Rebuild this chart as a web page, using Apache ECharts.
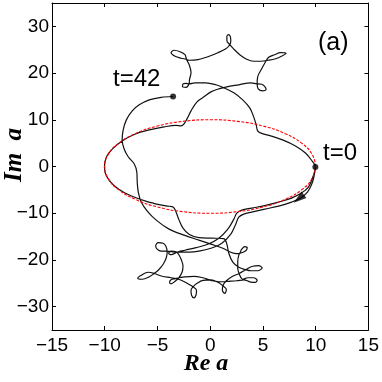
<!DOCTYPE html>
<html>
<head>
<meta charset="utf-8">
<script src="https://cdn.jsdelivr.net/npm/echarts@6/dist/echarts.min.js"></script>
<style>
  html, body { margin: 0; padding: 0; background: #fff; }
  #chart { width: 382px; height: 382px; }
</style>
</head>
<body>
<div id="chart"></div>
<script>
// axis ticks
const xTicks = [-15, -10, -5, 0, 5, 10, 15];
const yTicks = [-30, -20, -10, 0, 10, 20, 30];

// red dashed orbit |a| = 10
const unitOrbit = [[10,0],[9.66,2.59],[8.66,5],[7.07,7.07],[5,8.66],[2.59,9.66],[0,10],[-2.59,9.66],[-5,8.66],[-7.07,7.07],[-8.66,5],[-9.66,2.59],[-10,0],[-9.66,-2.59],[-8.66,-5],[-7.07,-7.07],[-5,-8.66],[-2.59,-9.66],[0,-10],[2.59,-9.66],[5,-8.66],[7.07,-7.07],[8.66,-5],[9.66,-2.59],[10,0]];

// black trajectory, t = 0 ... 42, in pieces
const outerStrand = [[9.97,-0.11],[9.83,-2.25],[9.59,-3.97],[9.22,-5.47],[8.56,-6.76],[7.71,-7.62],[6.48,-8.48],[5.16,-9.12],[3.93,-9.76],[3.18,-10.19],[2.71,-10.84],[2.42,-12.34],[1.95,-14.49],[1.10,-16.42],[0.07,-17.49],[-1.07,-18.13],[-2.01,-18.35],[-2.95,-18.35]];
const lowerPassA = [[-3.71,-18.24],[-4.13,-18.13],[-4.65,-18.13],[-5.03,-17.70],[-5.17,-16.95],[-4.93,-16.31],[-4.46,-16.42],[-4.18,-17.17],[-4.08,-18.35],[-4.18,-19.63],[-4.46,-20.92],[-4.84,-22.00],[-5.22,-22.75],[-5.78,-23.61],[-6.44,-24.14],[-6.87,-23.93],[-6.54,-23.28],[-5.88,-22.64],[-5.22,-22.96],[-4.56,-23.50],[-3.71,-23.82],[-2.86,-24.25],[-2.20,-25.00],[-1.63,-25.75],[-1.30,-26.50],[-1.35,-27.57],[-1.54,-28.11],[-1.77,-27.57],[-1.82,-26.50],[-1.63,-25.75],[-1.25,-25.00],[-0.69,-24.36],[0.07,-24.25],[0.73,-24.79],[1.20,-25.54],[1.53,-26.29],[1.39,-27.15],[1.15,-26.50],[1.20,-25.54],[1.48,-24.57],[2.05,-23.61],[2.80,-22.85],[3.37,-22.10],[4.03,-21.35],[4.59,-21.24],[4.92,-21.67],[4.50,-22.32],[3.84,-22.32],[3.37,-22.10],[2.71,-21.57],[2.14,-20.49],[1.76,-18.56],[1.58,-16.63],[1.29,-15.45],[0.16,-15.34],[-1.07,-15.24],[-2.01,-14.49]];
const leftOrbit = [[-2.58,-13.20],[-2.95,-11.48],[-3.24,-9.76],[-3.42,-8.91],[-3.61,-8.58],[-4.08,-8.48],[-4.84,-8.15],[-5.97,-7.51],[-7.10,-6.65],[-8.25,-5.47],[-9.18,-3.97],[-9.84,-2.04],[-10.03,-0.11],[-9.84,2.04],[-9.27,3.76],[-8.35,5.47],[-7.10,6.97],[-5.78,7.83],[-4.37,8.48],[-3.24,8.80],[-2.76,8.69],[-2.48,9.12],[-2.20,10.19],[-1.82,11.91],[-1.25,13.84],[-0.59,14.91],[0.07,15.98],[0.82,16.63],[1.58,17.06],[2.71,17.49],[3.84,17.92]];
const upperStar = [[4.41,17.70],[4.88,17.60],[5.16,17.17],[5.30,16.52],[4.97,16.20],[4.55,16.63],[4.45,17.70],[4.50,19.21],[4.88,20.92],[5.25,22.43],[5.54,23.39],[6.10,23.93],[6.67,24.36],[7.19,24.25],[6.76,23.61],[6.20,23.07],[5.54,22.75],[4.78,22.53],[4.12,22.53],[3.46,22.96],[2.80,23.93],[2.24,25.11],[1.86,26.07],[1.58,26.93],[1.58,27.79],[1.72,28.22],[1.91,27.79],[1.95,26.93],[1.86,26.07],[1.48,25.21],[0.73,24.36],[-0.22,23.50],[-1.16,22.86],[-2.01,22.75],[-2.29,22.96],[-2.76,23.18],[-3.33,23.61],[-3.71,24.36],[-3.42,24.89],[-2.86,24.57],[-2.39,23.93],[-2.25,22.96],[-1.96,21.57],[-1.82,20.06],[-1.96,18.67],[-2.01,17.70],[-2.29,16.95],[-2.62,17.06],[-2.58,17.70],[-2.29,17.81],[-2.01,17.70],[-1.44,17.92]];
const rightDescent = [[-0.41,17.92],[0.54,17.49],[1.29,16.85],[2.24,15.77],[3.08,14.27],[3.75,12.55],[4.12,10.62],[4.36,8.91],[4.50,7.62],[4.88,7.08],[5.73,6.55],[6.86,5.69],[8.08,4.40],[9.03,2.90],[9.59,1.39],[9.97,-0.11]];
const innerStrand = [[9.69,-2.47],[9.31,-4.40],[8.65,-5.69],[7.71,-6.76],[6.48,-7.62],[5.16,-8.37],[3.93,-8.91],[2.99,-9.33],[2.52,-9.98],[2.24,-11.27],[1.67,-13.41],[0.82,-15.34],[-0.22,-16.63],[-1.35,-17.38],[-2.39,-17.92]];
const lowerPassB = [[-3.14,-18.35],[-3.71,-18.88],[-3.94,-18.56],[-3.71,-18.13],[-3.24,-18.24],[-3.00,-18.78],[-2.76,-19.85],[-2.58,-21.35],[-2.67,-22.64],[-2.95,-23.71],[-3.33,-24.57],[-3.71,-25.11],[-3.85,-24.79],[-3.71,-24.25],[-3.33,-24.03],[-2.95,-23.82],[-2.39,-23.61],[-1.54,-23.50],[-0.69,-23.82],[0.07,-24.36],[0.82,-24.68],[1.76,-24.57],[2.52,-24.46],[3.18,-24.25],[3.75,-24.68],[4.26,-24.79],[4.45,-24.36],[4.12,-23.82],[3.56,-23.82],[3.08,-24.14],[2.80,-23.28],[2.61,-21.78],[2.61,-20.28],[2.71,-18.99],[2.85,-18.35],[2.99,-17.70],[3.27,-17.17],[3.51,-17.38],[3.37,-18.03],[2.99,-18.46],[2.52,-18.67]];
const finalArc = [[1.95,-18.35],[1.20,-17.49],[0.07,-16.63],[-1.07,-15.77],[-2.48,-14.70],[-3.90,-13.41],[-5.12,-11.48],[-5.97,-9.55],[-6.54,-7.62],[-6.82,-5.47],[-6.92,-3.33],[-6.96,-1.18],[-7.20,0.54],[-7.76,2.04],[-8.16,3.76],[-8.35,5.69],[-8.25,7.83],[-7.95,9.98],[-7.39,11.91],[-6.73,13.20],[-5.78,14.27],[-4.65,14.81],[-3.52,14.98]];

const endPoints = [[9.97, -0.11], [-3.52, 14.98]];
const arrowPoint = [[8.4, -6.9]];

const trajectory = [].concat(outerStrand, lowerPassA, leftOrbit, upperStar, rightDescent, innerStrand, lowerPassB, finalArc);

const sansFont = "'Liberation Sans Narrow', 'Liberation Sans', sans-serif";
const minusFmt = v => (v < 0 ? '\u2212' + Math.abs(v) : String(v));

const chart = echarts.init(document.getElementById('chart'));

const frameLine = { onZero: false, lineStyle: { color: '#000', width: 1 } };

chart.setOption({
  animation: false,
  grid: { left: 52, right: 12, top: 3, bottom: 52 },
  xAxis: [
    {
      type: 'value', position: 'bottom', min: -15, max: 15,
      axisLine: frameLine,
      axisTick: { inside: true, length: 4, customValues: xTicks, lineStyle: { color: '#000' } },
      axisLabel: { customValues: xTicks, color: '#000', fontSize: 19, fontFamily: sansFont, margin: 6, formatter: minusFmt },
      splitLine: { show: false }
    },
    {
      type: 'value', position: 'top', min: -15, max: 15,
      axisLine: frameLine,
      axisTick: { inside: true, length: 4, customValues: xTicks, lineStyle: { color: '#000' } },
      axisLabel: { show: false },
      splitLine: { show: false }
    }
  ],
  yAxis: [
    {
      type: 'value', position: 'left', min: -35, max: 35,
      axisLine: frameLine,
      axisTick: { inside: true, length: 4, customValues: yTicks, lineStyle: { color: '#000' } },
      axisLabel: { customValues: yTicks, color: '#000', fontSize: 19, fontFamily: sansFont, margin: 3, formatter: minusFmt },
      splitLine: { show: false }
    },
    {
      type: 'value', position: 'right', min: -35, max: 35,
      axisLine: frameLine,
      axisTick: { inside: true, length: 4, customValues: yTicks, lineStyle: { color: '#000' } },
      axisLabel: { show: false },
      splitLine: { show: false }
    }
  ],
  series: [
    {
      type: 'line', data: trajectory, showSymbol: false, smooth: 0.35, z: 2,
      lineStyle: { color: '#111', width: 1.2 }
    },
    {
      type: 'line', data: unitOrbit, showSymbol: false, smooth: true, z: 3,
      lineStyle: { color: '#ff0000', width: 1.1, type: [3, 1.5] }
    },
    {
      type: 'scatter', data: endPoints, symbolSize: 6, z: 4,
      itemStyle: { color: '#000' }
    },
    {
      type: 'scatter', data: arrowPoint, symbol: 'triangle', symbolSize: [8, 13], symbolRotate: 128, z: 4,
      itemStyle: { color: '#000' }
    }
  ],
  graphic: [
    { type: 'text', x: 113, y: 79, style: { text: 't=42', fontSize: 24, fontFamily: sansFont, fill: '#000', align: 'left', verticalAlign: 'middle' } },
    { type: 'text', x: 323, y: 153, style: { text: 't=0', fontSize: 24, fontFamily: sansFont, fill: '#000', align: 'left', verticalAlign: 'middle' } },
    { type: 'text', x: 318, y: 43, style: { text: '(a)', fontSize: 25, fontFamily: sansFont, fill: '#000', align: 'left', verticalAlign: 'middle' } },
    { type: 'text', x: 206, y: 364, style: { text: 'Re a', fontSize: 24, fontStyle: 'italic', fontWeight: 'bold', fontFamily: "'Liberation Serif', serif", fill: '#000', align: 'center', verticalAlign: 'middle' } },
    { type: 'text', x: 15, y: 155, rotation: Math.PI / 2, style: { text: 'Im  a', fontSize: 25, fontStyle: 'italic', fontWeight: 'bold', fontFamily: "'Liberation Serif', serif", fill: '#000', align: 'center', verticalAlign: 'middle' } }
  ]
});
</script>
</body>
</html>
